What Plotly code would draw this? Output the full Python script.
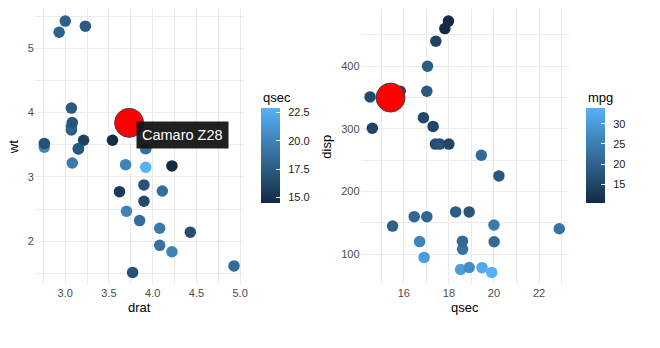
import plotly.graph_objects as go

names = ["Mazda RX4", "Mazda RX4 Wag", "Datsun 710", "Hornet 4 Drive", "Hornet Sportabout",
         "Valiant", "Duster 360", "Merc 240D", "Merc 230", "Merc 280", "Merc 280C",
         "Merc 450SE", "Merc 450SL", "Merc 450SLC", "Cadillac Fleetwood",
         "Lincoln Continental", "Chrysler Imperial", "Fiat 128", "Honda Civic",
         "Toyota Corolla", "Toyota Corona", "Dodge Challenger", "AMC Javelin",
         "Camaro Z28", "Pontiac Firebird", "Fiat X1-9", "Porsche 914-2", "Lotus Europa",
         "Ford Pantera L", "Ferrari Dino", "Maserati Bora", "Volvo 142E"]
mpg = [21.0, 21.0, 22.8, 21.4, 18.7, 18.1, 14.3, 24.4, 22.8, 19.2, 17.8, 16.4, 17.3, 15.2,
       10.4, 10.4, 14.7, 32.4, 30.4, 33.9, 21.5, 15.5, 15.2, 13.3, 19.2, 27.3, 26.0, 30.4,
       15.8, 19.7, 15.0, 21.4]
disp = [160, 160, 108, 258, 360, 225, 360, 146.7, 140.8, 167.6, 167.6, 275.8, 275.8, 275.8,
        472, 460, 440, 78.7, 75.7, 71.1, 120.1, 318, 304, 350, 400, 79, 120.3, 95.1, 351,
        145, 301, 121]
drat = [3.90, 3.90, 3.85, 3.08, 3.15, 2.76, 3.21, 3.69, 3.92, 3.92, 3.92, 3.07, 3.07, 3.07,
        2.93, 3.00, 3.23, 4.08, 4.93, 4.22, 3.70, 2.76, 3.15, 3.73, 3.08, 4.08, 4.43, 3.77,
        4.22, 3.62, 3.54, 4.11]
wt = [2.620, 2.875, 2.320, 3.215, 3.440, 3.460, 3.570, 3.190, 3.150, 3.440, 3.440, 4.070,
      3.730, 3.780, 5.250, 5.424, 5.345, 2.200, 1.615, 1.835, 2.465, 3.520, 3.435, 3.840,
      3.845, 1.935, 2.140, 1.513, 3.170, 2.770, 3.570, 2.780]
qsec = [16.46, 17.02, 18.61, 19.44, 17.02, 20.22, 15.84, 20.00, 22.90, 18.30, 18.90, 17.40,
        17.60, 18.00, 17.98, 17.82, 17.42, 19.47, 18.52, 19.90, 20.01, 16.87, 17.30, 15.41,
        17.05, 18.90, 16.70, 16.90, 14.50, 15.50, 14.60, 18.60]

qsec_ticks = [15.0, 17.5, 20.0, 22.5]
mpg_ticks = [15, 20, 25, 30]

highlight = "Camaro Z28"
hi = names.index(highlight)

scale = [[0, "#132B43"], [1, "#56B1F7"]]
grid = "#ebebeb"
FONT = "Liberation Sans, Arial"
tickfont = dict(family=FONT, size=11, color="#4d4d4d")
titlefont = dict(family=FONT, size=13, color="#000000")

fig = go.Figure()
fig.add_trace(go.Scatter(x=drat, y=wt, mode="markers", text=names,
                         marker=dict(size=11.5, color=qsec, coloraxis="coloraxis"),
                         xaxis="x", yaxis="y", showlegend=False))
fig.add_trace(go.Scatter(x=[drat[hi]], y=[wt[hi]], mode="markers",
                         marker=dict(size=29, color="red", line=dict(width=1, color="#444444")),
                         xaxis="x", yaxis="y", showlegend=False))
fig.add_trace(go.Scatter(x=qsec, y=disp, mode="markers", text=names,
                         marker=dict(size=11.5, color=mpg, coloraxis="coloraxis2"),
                         xaxis="x2", yaxis="y2", showlegend=False))
fig.add_trace(go.Scatter(x=[qsec[hi]], y=[disp[hi]], mode="markers",
                         marker=dict(size=29, color="red", line=dict(width=1, color="#444444")),
                         xaxis="x2", yaxis="y2", showlegend=False))

def pad(v):
    lo, hi_ = min(v), max(v)
    p = (hi_ - lo) * 0.05
    return [lo - p, hi_ + p]

ax_common = dict(showgrid=True, gridcolor=grid, gridwidth=1.3, zeroline=False, showline=False,
                 ticks="", tickfont=tickfont, title_font=titlefont)

CB_TOP = 108
CB_BOTTOM = 203
cb_common = dict(thickness=19, lenmode="pixels", len=CB_BOTTOM - CB_TOP, xanchor="left",
                 yanchor="top", y=1 - CB_TOP / 348, xpad=0, ypad=0,
                 ticks="inside", ticklen=4, tickcolor="white", outlinewidth=0,
                 tickfont=dict(family=FONT, size=11, color="#1a1a1a"))

fig.update_layout(
    width=660, height=348, margin=dict(l=0, r=0, t=0, b=0),
    paper_bgcolor="white", plot_bgcolor="white",
    xaxis=dict(domain=[35 / 660, 245 / 660], range=pad(drat), anchor="y",
               tickvals=[3.0, 3.5, 4.0, 4.5, 5.0], ticktext=["3.0", "3.5", "4.0", "4.5", "5.0"],
               minor=dict(tickvals=[2.75, 3.25, 3.75, 4.25, 4.75], showgrid=True,
                          gridcolor=grid, gridwidth=0.6),
               title=dict(text="drat", standoff=4), **ax_common),
    yaxis=dict(domain=[63 / 348, 339.5 / 348], range=pad(wt), anchor="x",
               tickvals=[2, 3, 4, 5],
               minor=dict(tickvals=[1.5, 2.5, 3.5, 4.5, 5.5], showgrid=True,
                          gridcolor=grid, gridwidth=0.6),
               title=dict(text="wt", standoff=6), **ax_common),
    xaxis2=dict(domain=[362.8 / 660, 572.2 / 660], range=pad(qsec), anchor="y2",
                tickvals=[16, 18, 20, 22],
                minor=dict(tickvals=[15, 17, 19, 21, 23], showgrid=True,
                           gridcolor=grid, gridwidth=0.6),
                title=dict(text="qsec", standoff=4), **ax_common),
    yaxis2=dict(domain=[63 / 348, 339.5 / 348], range=pad(disp), anchor="x2",
                tickvals=[100, 200, 300, 400],
                minor=dict(tickvals=[150, 250, 350, 450], showgrid=True,
                           gridcolor=grid, gridwidth=0.6),
                title=dict(text="disp", standoff=6), **ax_common),
    coloraxis=dict(colorscale=scale, cmin=min(qsec), cmax=max(qsec),
                   colorbar=dict(x=262.7 / 660, tickvals=qsec_ticks,
                                 ticktext=["\u2002%.1f" % v for v in qsec_ticks],
                                 **cb_common)),
    coloraxis2=dict(colorscale=scale, cmin=min(mpg), cmax=max(mpg),
                    colorbar=dict(x=590 / 660, tickvals=mpg_ticks,
                                  ticktext=["\u2002%d" % v for v in mpg_ticks],
                                  **cb_common)),
)

# colorbar titles
for txt, xpx in (("qsec", 262.7), ("mpg", 590)):
    fig.add_annotation(x=xpx / 660, y=1 - 97 / 348, xref="paper", yref="paper", text=txt,
                       showarrow=False, xanchor="left", yanchor="middle",
                       font=dict(family=FONT, size=13, color="#000000"))

fig.add_annotation(x=drat[hi], y=wt[hi], xref="x", yref="y", text=highlight, showarrow=False,
                   xanchor="left", yanchor="top", xshift=7, yshift=2,
                   bgcolor="rgba(20,20,20,0.95)", borderpad=5,
                   font=dict(family=FONT, size=14.5, color="white"))

fig.write_html("out.html")
